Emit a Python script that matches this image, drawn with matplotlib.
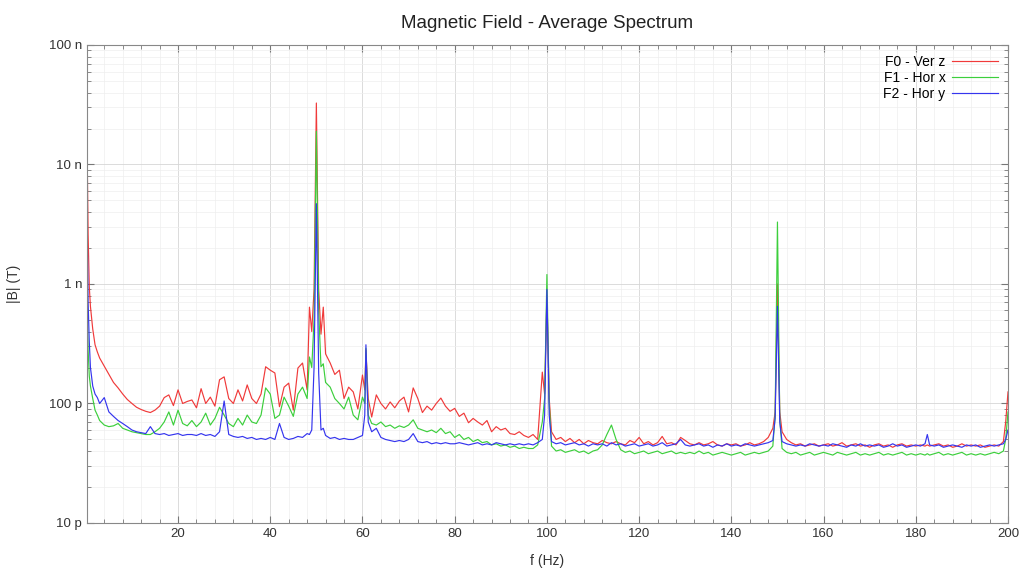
import matplotlib.pyplot as plt
from matplotlib.ticker import FixedLocator, FixedFormatter, MultipleLocator, LogLocator, NullFormatter

plt.rcParams['font.family'] = ['Liberation Sans', 'DejaVu Sans']

# frequency bins (Hz)
FREQ = [
    0.25, 0.5, 0.75, 1, 1.5, 2, 2.5, 3,
    4, 5, 6, 7, 8, 9, 10, 11, 12, 13,
    14, 15, 16, 17, 18, 19, 20, 21, 22, 23,
    24, 25, 26, 27, 28, 29, 30, 31, 32, 33,
    34, 35, 36, 37, 38, 39, 40, 41, 42, 43,
    44, 45, 46, 47, 48,
    48.5, 49, 49.5, 50, 50.5, 51, 51.5,
    52, 53, 54, 55, 56, 57, 58, 59, 60,
    60.5, 60.75, 61.25,
    62, 63, 64, 65, 66, 67, 68, 69, 70, 71,
    72, 73, 74, 75, 76, 77, 78, 79, 80, 81,
    82, 83, 84, 85, 86, 87, 88, 89, 90, 91,
    92, 93, 94, 95, 96, 97, 98, 99,
    99.5, 100, 100.5,
    101, 102, 103, 104, 105, 106, 107, 108, 109, 110,
    111, 112, 113, 114, 115, 116, 117, 118, 119, 120,
    121, 122, 123, 124, 125, 126, 127, 128, 129, 130,
    131, 132, 133, 134, 135, 136, 137, 138, 139, 140,
    141, 142, 143, 144, 145, 146, 147, 148, 149,
    149.5, 150, 150.5,
    151, 152, 153, 154, 155, 156, 157, 158, 159, 160,
    161, 162, 163, 164, 165, 166, 167, 168, 169, 170,
    171, 172, 173, 174, 175, 176, 177, 178, 179, 180,
    181, 182,
    182.5,
    183, 184, 185, 186, 187, 188, 189, 190, 191, 192,
    193, 194, 195, 196, 197, 198, 199,
    199.5, 200,
]

# |B| in pT
F0_VER_Z = [
    17000, 2600, 950, 650, 420, 310, 270, 240,
    205, 175, 150, 135, 120, 108, 100, 93, 89, 86,
    84, 88, 95, 112, 118, 96, 130, 100, 104, 107,
    92, 133, 100, 113, 95, 158, 167, 110, 100, 130,
    105, 143, 110, 100, 120, 203, 190, 180, 94, 137,
    148, 88, 198, 218, 130,
    640, 400, 900, 32700, 900, 380, 640,
    260, 218, 175, 190, 110, 137, 125, 90, 173,
    130, 280, 110,
    77, 118, 100, 90, 103, 92, 105, 113, 85, 135,
    110, 84, 95, 88, 100, 111, 95, 86, 91, 78,
    83, 69, 75, 70, 66, 72, 58, 64, 60, 62,
    56, 55, 58, 54, 52, 55, 50, 183,
    120, 800, 110,
    58, 50, 52, 48, 51, 47, 50, 46, 49, 47,
    46, 49, 47, 46, 48, 46, 45, 49, 47, 52,
    46, 48, 45, 47, 53, 46, 47, 45, 52, 49,
    46, 45, 47, 45, 46, 48, 45, 44, 46, 45,
    46, 44, 45, 47, 45, 46, 48, 52, 62,
    85, 1000, 85,
    58, 50, 47, 45, 46, 44, 45, 46, 44, 45,
    46, 44, 45, 47, 44, 45, 46, 44, 45, 43,
    45, 46, 44, 45, 43, 45, 46, 44, 45, 44,
    45, 44,
    45,
    44, 45, 46, 44, 45, 43, 44, 46, 44, 45,
    44, 45, 43, 44, 45, 44, 48,
    70, 125,
]

F1_HOR_X = [
    900, 280, 170, 140, 110, 88, 80, 72,
    66, 64, 65, 68, 62, 60, 58, 57, 56, 55,
    55, 58, 62, 70, 85, 66, 88, 68, 65, 72,
    64, 70, 83, 66, 75, 93, 80, 68, 64, 75,
    66, 80, 70, 68, 80, 135, 120, 75, 80, 113,
    95, 78, 120, 137, 110,
    245, 200, 500, 19000, 600, 203, 215,
    150, 137, 110, 100, 90, 113, 80, 73, 113,
    100, 290, 80,
    68, 66, 70, 64, 66, 62, 65, 63, 66, 73,
    62, 60, 58, 60, 57, 62, 56, 58, 52, 55,
    50, 52, 48, 50, 47, 48, 45, 46, 44, 45,
    43, 44, 42, 43, 42, 42, 45, 70,
    110, 1200, 100,
    44, 40, 41, 39, 40, 41, 39, 40, 38, 40,
    41, 45, 55, 66, 50, 41, 39, 40, 38, 39,
    40, 38, 39, 40, 38, 39, 40, 38, 39, 38,
    39, 38, 40, 38, 39, 37, 38, 39, 38, 37,
    38, 39, 37, 38, 39, 38, 39, 40, 44,
    80, 3300, 75,
    42, 39, 38, 39, 37, 38, 39, 37, 38, 39,
    38, 37, 39, 38, 37, 38, 39, 37, 38, 37,
    38, 39, 37, 38, 37, 38, 39, 37, 38, 37,
    38, 37,
    38,
    37, 38, 39, 37, 38, 37, 38, 39, 37, 38,
    37, 38, 37, 38, 39, 38, 40,
    50, 85,
]

F2_HOR_Y = [
    4000, 700, 330, 200, 140, 120, 112, 100,
    112, 85, 78, 72, 68, 64, 60, 58, 57, 56,
    64, 56, 55, 56, 54, 55, 56, 54, 55, 55,
    54, 56, 54, 55, 53, 58, 105, 55, 53, 52,
    53, 51, 52, 50, 51, 50, 52, 50, 68, 52,
    50, 51, 53, 52, 56,
    55, 60, 200, 4700, 180, 60, 62,
    54, 51, 52, 50, 51, 50, 50, 52, 54,
    80, 310, 70,
    58, 62, 52, 50, 49, 48, 49, 48, 50, 56,
    48, 47, 48, 46, 47, 46, 47, 46, 46, 47,
    46, 45, 46, 47, 45, 46, 45, 47, 46, 45,
    46, 45, 46, 45, 46, 45, 47, 50,
    80, 900, 80,
    48, 46, 47, 45, 46, 47, 45, 46, 44, 46,
    45, 46, 44, 47, 45, 46, 44, 45, 46, 44,
    45, 46, 44, 45, 47, 44, 45, 46, 50, 45,
    44, 45, 46, 44, 45, 43, 45, 44, 46, 44,
    45, 44, 46, 45, 44, 45, 46, 47, 49,
    75, 650, 70,
    48, 46, 45, 44, 45, 44, 46, 45, 44, 45,
    44, 46, 45, 44, 43, 45, 44, 46, 44, 45,
    44, 45, 43, 44, 46, 44, 45, 43, 44, 45,
    44, 46,
    55,
    45, 44, 45, 43, 44, 45, 44, 43, 45, 44,
    45, 43, 44, 45, 44, 45, 46,
    50, 60,
]

LABELS = ["F0 - Ver z", "F1 - Hor x", "F2 - Hor y"]
COLORS = ["#f03a3a", "#3ccf3c", "#3535ee"]
XTICKS = [20, 40, 60, 80, 100, 120, 140, 160, 180, 200]
YTICKS = [1e-11, 1e-10, 1e-9, 1e-8, 1e-7]
YTICK_LABELS = ["10 p", "100 p", "1 n", "10 n", "100 n"]

fig = plt.figure(figsize=(10.22, 5.71), dpi=100)
ax = fig.add_axes([0.0851, 0.0841, 0.9012, 0.8371])

for series, label, color in zip([F0_VER_Z, F1_HOR_X, F2_HOR_Y], LABELS, COLORS):
    ax.plot(FREQ, [v * 1e-12 for v in series], color=color, lw=0.85, label=label)

ax.set_yscale("log")
ax.set_xlim(0.25, 200)
ax.set_ylim(1e-11, 1e-7)

ax.xaxis.set_major_locator(FixedLocator(XTICKS))
ax.xaxis.set_minor_locator(MultipleLocator(4))
ax.yaxis.set_major_locator(FixedLocator(YTICKS))
ax.yaxis.set_major_formatter(FixedFormatter(YTICK_LABELS))
ax.yaxis.set_minor_locator(LogLocator(base=10, subs=range(2, 10), numticks=20))
ax.yaxis.set_minor_formatter(NullFormatter())

ax.tick_params(which="both", direction="in", top=True, right=True,
               colors="#777777", labelcolor="#333333", labelsize=9.5)
ax.tick_params(which="major", length=5)
ax.tick_params(which="minor", length=3)
for s in ax.spines.values():
    s.set_color("#888888")
    s.set_linewidth(0.8)

ax.grid(which="major", color="#d6d6d6", lw=0.6)
ax.grid(which="minor", color="#eeeeee", lw=0.5)
ax.set_axisbelow(True)

ax.set_title("Magnetic Field - Average Spectrum", fontsize=13.5, color="#222222", pad=12)
ax.set_xlabel("f (Hz)", fontsize=10, color="#333333", labelpad=10)
ax.set_ylabel("|B| (T)", fontsize=10, color="#333333", labelpad=20)

ax.legend(loc="upper right", frameon=False, markerfirst=False, fontsize=10,
          handlelength=3.3, labelspacing=0.15, borderaxespad=0.3, handletextpad=0.5)

plt.savefig("out.png", dpi=100)
